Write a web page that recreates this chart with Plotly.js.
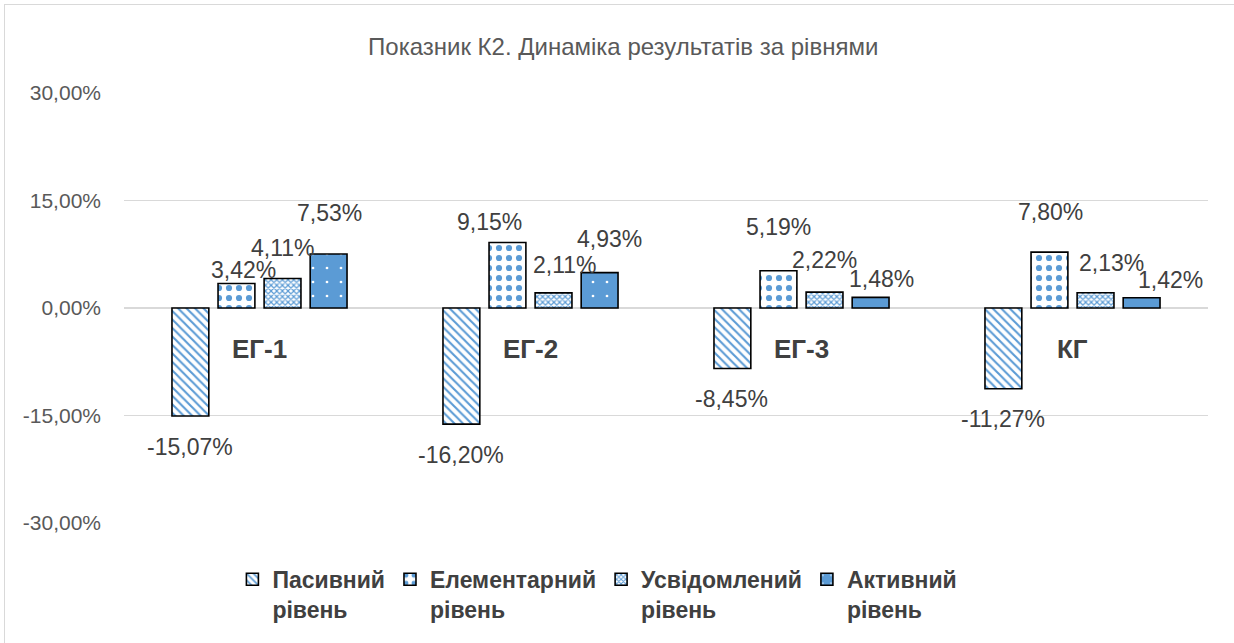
<!DOCTYPE html>
<html>
<head>
<meta charset="utf-8">
<script src="https://cdn.plot.ly/plotly-3.0.1.min.js"></script>
<style>
  html, body { margin: 0; padding: 0; background: #fff; }
  #wrap { position: relative; width: 1234px; height: 643px; }
  #chart { width: 1234px; height: 643px; }
  #frame { position: absolute; left: 4px; top: 4px; width: 1240px; height: 650px;
           border-left: 1.5px solid #d9d9d9; border-top: 1.5px solid #d9d9d9; pointer-events: none; }
</style>
</head>
<body>
<div id="wrap">
  <div id="chart"></div>
  <div id="frame"></div>
</div>
<script>
// ---- data ----
const categories = ['ЕГ-1', 'ЕГ-2', 'ЕГ-3', 'КГ'];
const seriesNames = ['Пасивний<br>рівень', 'Елементарний<br>рівень', 'Усвідомлений<br>рівень', 'Активний<br>рівень'];
const pasyvnyi     = [-15.07, -16.20, -8.45, -11.27];
const elementarnyi = [3.42, 9.15, 5.19, 7.80];
const usvidomlenyi = [4.11, 2.11, 2.22, 2.13];
const aktyvnyi     = [7.53, 4.93, 1.48, 1.42];
const yTickVals = [-30, -15, 0, 15, 30];
const yTickText = ['-30,00%', '-15,00%', '0,00%', '15,00%', '30,00%'];
const chartTitle = 'Показник К2. Динаміка результатів за рівнями';

// label offsets (px) relative to bar end: [dx, dist]
const labelOffsets = [
  [[0, 31], [0, 31], [-1, 30], [0, 30]],
  [[7, 13], [-18, 20], [0, 44], [1, 40]],
  [[0, 31], [11, 28], [0, 32], [16, 30]],
  [[1, 41], [10, 34], [11, 18], [29, 18]]
];

const allSeries = [pasyvnyi, elementarnyi, usvidomlenyi, aktyvnyi];
const blue = '#5B9BD5';
const patterns = [
  {shape: '\\', fgcolor: blue, bgcolor: '#ffffff', size: 6, solidity: 0.35},
  {shape: '.', fgcolor: blue, bgcolor: '#ffffff', size: 10, solidity: 0.3},
  {shape: 'x', fgcolor: blue, bgcolor: '#ffffff', size: 4, solidity: 0.5},
  {shape: '.', fgcolor: '#ffffff', bgcolor: blue, size: 14, solidity: 0.03}
];

const bargap = 0.32;
const traces = allSeries.map((vals, j) => ({
  type: 'bar',
  name: seriesNames[j],
  x: categories,
  y: vals,
  marker: {
    color: j === 3 ? blue : '#ffffff',
    pattern: patterns[j],
    line: {color: '#000000', width: 1.6}
  },
  hoverinfo: 'skip'
}));

const fmt = v => v.toFixed(2).replace('.', ',') + '%';
const slot = (1 - bargap) / 4;
const annotations = [];
allSeries.forEach((vals, j) => {
  vals.forEach((v, i) => {
    const off = labelOffsets[j][i];
    annotations.push({
      x: i + (j - 1.5) * slot, y: v, xref: 'x', yref: 'y',
      text: fmt(v), showarrow: false,
      xshift: off[0], yshift: v >= 0 ? off[1] : -off[1],
      xanchor: 'center', yanchor: 'middle',
      font: {family: 'Liberation Sans, Arial, sans-serif', size: 23, color: '#404040'}
    });
  });
});
categories.forEach((c, i) => {
  annotations.push({
    x: i, y: 0, xref: 'x', yref: 'y', text: '<b>' + c + '</b>', showarrow: false,
    yshift: -41, xanchor: 'center', yanchor: 'middle',
    font: {family: 'Liberation Sans, Arial, sans-serif', size: 26, color: '#404040'}
  });
});

const layout = {
  width: 1234, height: 643,
  margin: {l: 124, r: 26, t: 93, b: 120, autoexpand: false},
  paper_bgcolor: '#ffffff', plot_bgcolor: '#ffffff',
  title: {
    text: chartTitle, x: 0.505, xref: 'container', xanchor: 'center',
    y: 1 - 47 / 643, yref: 'container', yanchor: 'middle',
    font: {family: 'Liberation Sans, Arial, sans-serif', size: 24, color: '#595959'}
  },
  barmode: 'group', bargap: bargap, bargroupgap: 0.2,
  xaxis: {showticklabels: false, ticks: '', showgrid: false, zeroline: false, showline: false},
  yaxis: {
    range: [-30, 30], tickvals: yTickVals, ticktext: yTickText,
    gridcolor: '#d9d9d9', gridwidth: 1.5, zeroline: true, zerolinecolor: '#d9d9d9', zerolinewidth: 1.5,
    showline: false, ticks: '', ticklabelstandoff: 22,
    tickfont: {family: 'Liberation Sans, Arial, sans-serif', size: 21, color: '#595959'}
  },
  showlegend: true,
  legend: {
    orientation: 'h', x: 0.1, xanchor: 'left', y: -0.081, yanchor: 'top',
    valign: 'top', traceorder: 'normal',
    font: {family: 'Liberation Sans, Arial, sans-serif', size: 23, color: '#404040', weight: 'bold'},
    itemwidth: 30
  },
  annotations: annotations
};

Plotly.newPlot('chart', traces, layout, {staticPlot: true, displayModeBar: false});
</script>
</body>
</html>
